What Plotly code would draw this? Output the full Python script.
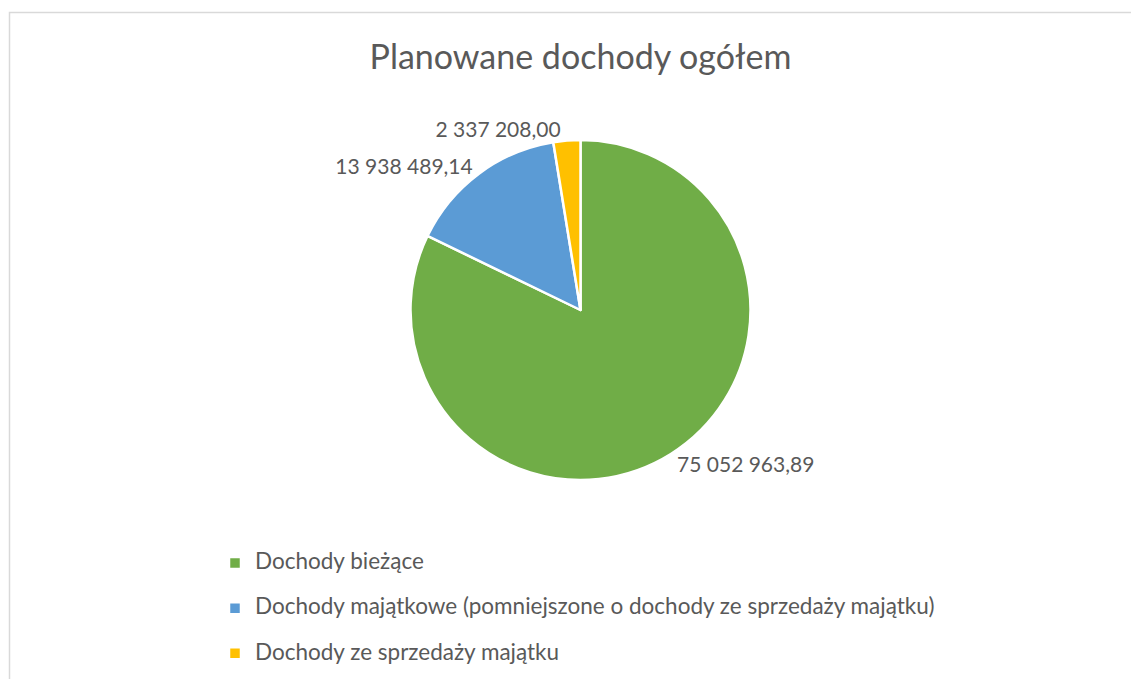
import plotly.graph_objects as go

categories = [
    "Dochody bieżące",
    "Dochody majątkowe (pomniejszone o dochody ze sprzedaży majątku)",
    "Dochody ze sprzedaży majątku",
]
values = [75052963.89, 13938489.14, 2337208.00]
colors = ["#70AD47", "#5B9BD5", "#FFC000"]
title_text = "Planowane dochody ogółem"

W, H = 1139, 700
OFF = 8  # page body margin
FONT = "Lato"
TXT = "#595959"

legend_labels = [
    f"<span style='font-size:22.5px'>{c}</span><br><span style='font-size:10px'> </span>"
    for c in categories
]

cx, cy, r = 580.5 - OFF, 310 - OFF, 170

fig = go.Figure(
    go.Pie(
        labels=legend_labels,
        values=values,
        sort=False,
        direction="clockwise",
        rotation=0,
        marker=dict(colors=colors, line=dict(color="white", width=2.5)),
        textinfo="value",
        texttemplate="%{value:,.2f}",
        textposition="outside",
        outsidetextfont=dict(family=FONT, size=21, color=TXT),
        hovertemplate="%{value:,.2f}<extra></extra>",
        domain=dict(
            x=[(cx - r) / W, (cx + r) / W],
            y=[(H - cy - r) / H, (H - cy + r) / H],
        ),
    )
)

fig.update_layout(
    width=W,
    height=H,
    margin=dict(l=0, r=0, t=0, b=0),
    paper_bgcolor="white",
    separators=", ",
    font=dict(family=FONT, color=TXT),
    title=dict(
        text=title_text,
        font=dict(family=FONT, size=34, color=TXT),
        x=cx / W,
        xanchor="center",
        xref="paper",
        y=1 - (57 - OFF) / H,
        yanchor="middle",
        yref="paper",
    ),
    showlegend=True,
    legend=dict(
        x=(215 - OFF) / W,
        xanchor="left",
        y=1 - (546 - OFF) / H,
        yanchor="top",
        font=dict(family=FONT, size=16.2, color=TXT),
        valign="top",
        bgcolor="rgba(0,0,0,0)",
    ),
    shapes=[
        dict(
            type="rect",
            xref="paper",
            yref="paper",
            x0=(9.5 - OFF) / W,
            x1=1.02,
            y0=-0.02,
            y1=1 - (12.5 - OFF) / H,
            line=dict(color="#D9D9D9", width=1.5),
            fillcolor="rgba(0,0,0,0)",
            layer="below",
        )
    ],
)

fig.write_html("out.html")
